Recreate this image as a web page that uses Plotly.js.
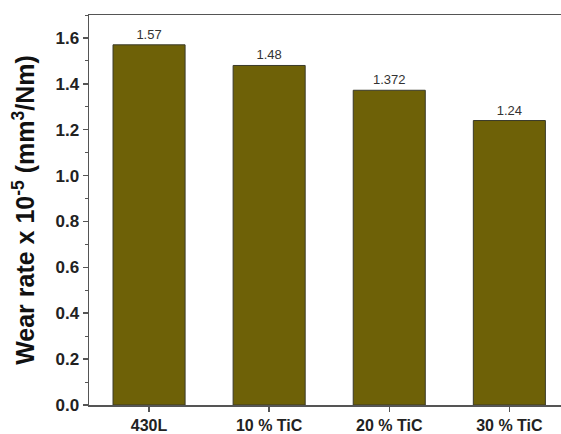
<!DOCTYPE html>
<html><head><meta charset="utf-8">
<script src="https://cdn.plot.ly/plotly-3.0.1.min.js"></script>
<style>html,body{margin:0;padding:0;background:#fff}#c{width:561px;height:434px}</style>
</head><body><div id="c"></div>
<script>
const categories = ["430L", "10 % TiC", "20 % TiC", "30 % TiC"];
const wearRate = [1.57, 1.48, 1.372, 1.24];
const yTicks = [0.0, 0.2, 0.4, 0.6, 0.8, 1.0, 1.2, 1.4, 1.6];
const yTickLabels = ["0.0", "0.2", "0.4", "0.6", "0.8", "1.0", "1.2", "1.4", "1.6"];

const trace = {
  type: "bar",
  x: categories,
  y: wearRate,
  width: 0.6,
  marker: {color: "#6e6107", line: {color: "#3a3a2a", width: 1}},
  text: wearRate.map(v => String(v)),
  textposition: "outside",
  textfont: {family: "Arial, Liberation Sans, sans-serif", size: 13, color: "#333"},
  cliponaxis: false,
  hoverinfo: "none"
};
const layout = {
  width: 561, height: 434,
  margin: {l: 89, r: 0, t: 15, b: 29},
  paper_bgcolor: "#fff", plot_bgcolor: "#fff",
  showlegend: false,
  font: {family: "Arial, Liberation Sans, sans-serif", color: "#222"},
  xaxis: {
    range: [-0.5, 3.43],
    showline: true, linecolor: "#555", linewidth: 1.5, mirror: true,
    ticks: "outside", ticklen: 5, tickcolor: "#555", tickwidth: 1.5,
    tickfont: {size: 16, color: "#222", weight: "bold"},
    showgrid: false, zeroline: false
  },
  yaxis: {
    range: [0, 1.7],
    tickvals: yTicks, ticktext: yTickLabels,
    showline: true, linecolor: "#555", linewidth: 1.5,
    ticks: "outside", ticklen: 5, tickcolor: "#555", tickwidth: 1.5,
    minor: {dtick: 0.1, tick0: 0, ticks: "outside", ticklen: 3, tickcolor: "#555", tickwidth: 1},
    tickfont: {size: 17, color: "#222", weight: "bold"},
    showgrid: false, zeroline: false,
    title: {text: "Wear rate x 10<sup>-5</sup> (mm<sup>3</sup>/Nm)", font: {size: 25, color: "#111", weight: "bold"}, standoff: 13}
  },
  bargap: 0.4
};
Plotly.newPlot("c", [trace], layout, {displayModeBar: false, staticPlot: true});
</script></body></html>
